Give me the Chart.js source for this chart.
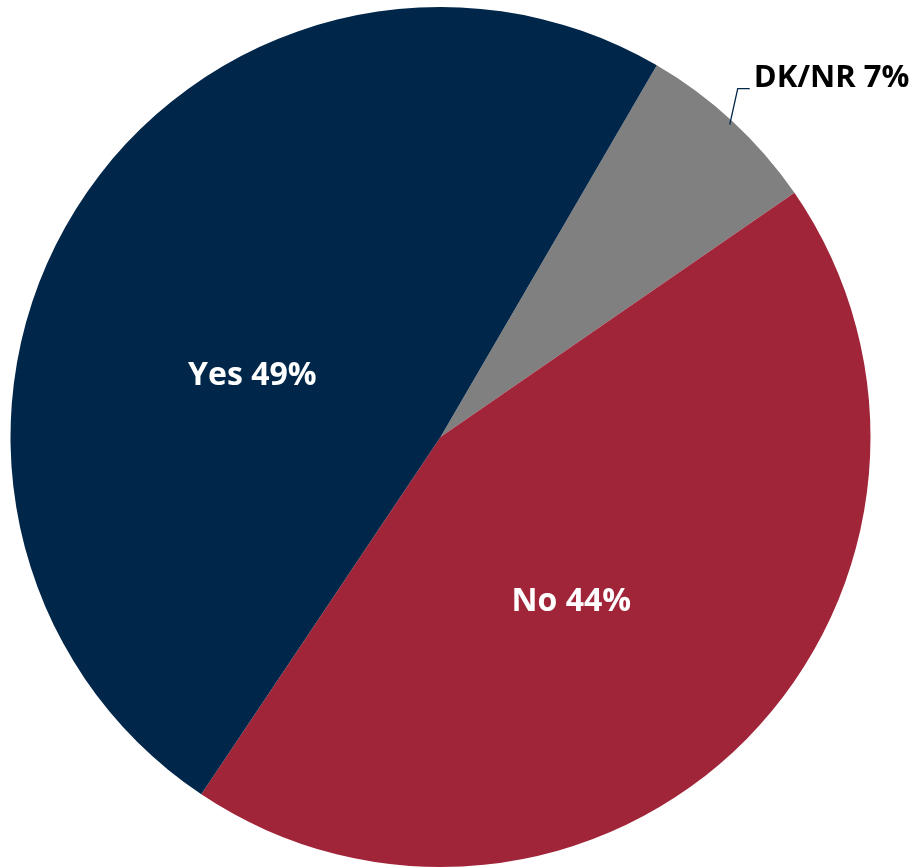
<!DOCTYPE html>
<html>
<head>
<meta charset="utf-8">
<script src="https://cdn.jsdelivr.net/npm/chart.js@4"></script>
<style>
  html, body { margin: 0; padding: 0; background: #fff; }
  #wrap { width: 913px; height: 868px; }
</style>
</head>
<body>
<div id="wrap"><canvas id="pieChart"></canvas></div>
<script>
// data
const categories = ['DK/NR', 'No', 'Yes'];
const shares = [7, 44, 49];
const sliceColors = ['#808080', '#A12539', '#00264A'];

// label placement: angle nudge (deg) and radius fraction for each slice
const labelStyle = [
    { outside: true },
    { angleShift: 7, radius: 0.49, color: '#ffffff' },
    { angleShift: -14, radius: 0.46, color: '#ffffff' }
];

const labelPlugin = {
    id: 'sliceLabels',
    afterDatasetsDraw(chart) {
        const ctx = chart.ctx;
        const meta = chart.getDatasetMeta(0);
        ctx.save();
        ctx.textBaseline = 'middle';
        meta.data.forEach((arc, i) => {
            const p = arc.getProps(['x', 'y', 'startAngle', 'endAngle', 'outerRadius'], true);
            const text = categories[i] + ' ' + shares[i] + '%';
            const st = labelStyle[i];
            const mid = (p.startAngle + p.endAngle) / 2;
            if (st.outside) {
                // leader line from edge of slice out to the label
                const ex = p.x + Math.cos(mid) * p.outerRadius * 0.99;
                const ey = p.y + Math.sin(mid) * p.outerRadius * 0.99;
                const kx = ex + 8;
                const ky = ey - 36;
                ctx.strokeStyle = '#00264A';
                ctx.lineWidth = 1.3;
                ctx.beginPath();
                ctx.moveTo(ex, ey);
                ctx.lineTo(kx, ky);
                ctx.lineTo(kx + 12, ky);
                ctx.stroke();
                ctx.font = 'bold 31px "Open Sans", sans-serif';
                ctx.fillStyle = '#000000';
                ctx.textAlign = 'left';
                ctx.fillText(text, kx + 16, ky - 10);
            } else {
                const a = mid + st.angleShift * Math.PI / 180;
                const r = p.outerRadius * st.radius;
                ctx.font = 'bold 32px "Open Sans", sans-serif';
                ctx.fillStyle = st.color;
                ctx.textAlign = 'center';
                ctx.fillText(text, p.x + Math.cos(a) * r, p.y + Math.sin(a) * r);
            }
        });
        ctx.restore();
    }
};

const ctx = document.getElementById('pieChart').getContext('2d');
new Chart(ctx, {
    type: 'pie',
    data: {
        labels: categories,
        datasets: [{
            data: shares,
            backgroundColor: sliceColors,
            borderWidth: 0
        }]
    },
    options: {
        responsive: true,
        maintainAspectRatio: false,
        animation: false,
        rotation: 30.2,
        layout: { padding: { left: 10, right: 42, top: 7, bottom: 1 } },
        plugins: {
            legend: { display: false },
            tooltip: { enabled: false }
        }
    },
    plugins: [labelPlugin]
});
</script>
</body>
</html>
